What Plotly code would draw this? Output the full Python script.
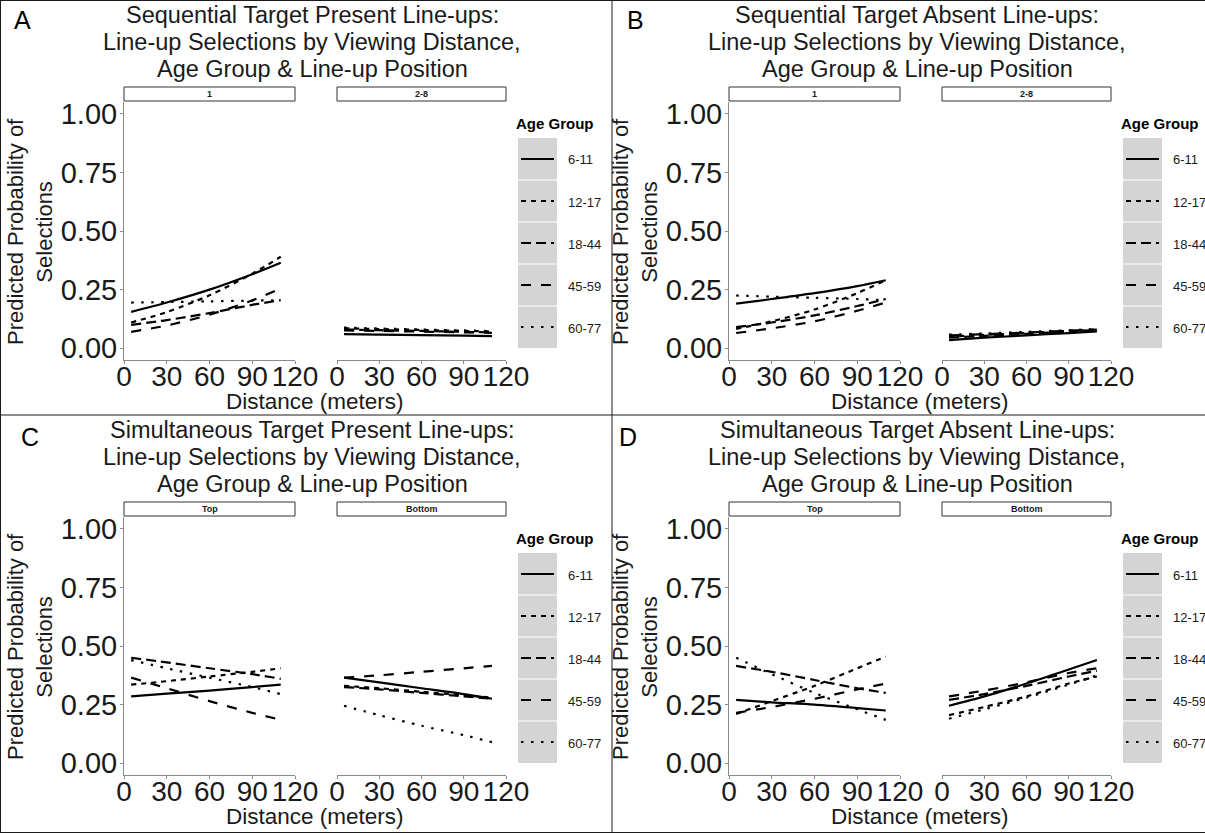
import plotly.graph_objects as go

W, H = 1205, 833
FONT = "Liberation Sans, Arial, sans-serif"

# ---------------- data ----------------
distance = [5, 30, 60, 90, 110]
age_groups = ["6-11", "12-17", "18-44", "45-59", "60-77"]
x_ticks = [0, 30, 60, 90, 120]
y_ticks = [0, 0.25, 0.5, 0.75, 1.0]
y_tick_labels = ["0.00", "0.25", "0.50", "0.75", "1.00"]

# rows follow age_groups order
seq_tp_pos1 = [
    [0.155, 0.195, 0.250, 0.316, 0.365],
    [0.110, 0.154, 0.226, 0.318, 0.390],
    [0.100, 0.120, 0.150, 0.185, 0.205],
    [0.070, 0.097, 0.143, 0.204, 0.255],
    [0.195, 0.197, 0.200, 0.203, 0.205],
]
seq_tp_pos2_8 = [
    [0.060, 0.058, 0.056, 0.054, 0.052],
    [0.085, 0.082, 0.078, 0.074, 0.072],
    [0.080, 0.077, 0.074, 0.070, 0.068],
    [0.076, 0.074, 0.071, 0.068, 0.066],
    [0.088, 0.084, 0.080, 0.076, 0.073],
]
seq_ta_pos1 = [
    [0.190, 0.210, 0.235, 0.265, 0.290],
    [0.083, 0.115, 0.165, 0.235, 0.290],
    [0.090, 0.110, 0.140, 0.180, 0.210],
    [0.065, 0.085, 0.115, 0.160, 0.195],
    [0.225, 0.220, 0.215, 0.210, 0.205],
]
seq_ta_pos2_8 = [
    [0.035, 0.045, 0.055, 0.065, 0.072],
    [0.050, 0.057, 0.065, 0.074, 0.080],
    [0.045, 0.053, 0.062, 0.072, 0.078],
    [0.055, 0.060, 0.067, 0.075, 0.080],
    [0.058, 0.063, 0.070, 0.077, 0.082],
]
sim_tp_top = [
    [0.285, 0.297, 0.310, 0.325, 0.335],
    [0.335, 0.350, 0.370, 0.390, 0.405],
    [0.450, 0.430, 0.405, 0.380, 0.360],
    [0.365, 0.320, 0.265, 0.215, 0.185],
    [0.440, 0.405, 0.365, 0.325, 0.295],
]
sim_tp_bottom = [
    [0.365, 0.345, 0.320, 0.295, 0.275],
    [0.330, 0.320, 0.305, 0.290, 0.280],
    [0.325, 0.315, 0.300, 0.285, 0.275],
    [0.365, 0.375, 0.390, 0.405, 0.415],
    [0.245, 0.205, 0.160, 0.120, 0.090],
]
sim_ta_top = [
    [0.270, 0.260, 0.250, 0.235, 0.225],
    [0.210, 0.265, 0.330, 0.405, 0.455],
    [0.415, 0.390, 0.355, 0.320, 0.300],
    [0.215, 0.240, 0.275, 0.315, 0.340],
    [0.450, 0.380, 0.300, 0.230, 0.185],
]
sim_ta_bottom = [
    [0.245, 0.285, 0.340, 0.400, 0.440],
    [0.205, 0.240, 0.285, 0.340, 0.370],
    [0.270, 0.295, 0.330, 0.370, 0.395],
    [0.285, 0.310, 0.345, 0.385, 0.405],
    [0.190, 0.230, 0.280, 0.335, 0.375],
]

panel_letters = ["A", "B", "C", "D"]
panel_titles = [
    "Sequential Target Present Line-ups:<br>Line-up Selections by Viewing Distance,<br>Age Group & Line-up Position",
    "Sequential Target Absent Line-ups:<br>Line-up Selections by Viewing Distance,<br>Age Group & Line-up Position",
    "Simultaneous Target Present Line-ups:<br>Line-up Selections by Viewing Distance,<br>Age Group & Line-up Position",
    "Simultaneous Target Absent Line-ups:<br>Line-up Selections by Viewing Distance,<br>Age Group & Line-up Position",
]
facet_labels = [["1", "2-8"], ["1", "2-8"], ["Top", "Bottom"], ["Top", "Bottom"]]
panel_data = [
    [seq_tp_pos1, seq_tp_pos2_8],
    [seq_ta_pos1, seq_ta_pos2_8],
    [sim_tp_top, sim_tp_bottom],
    [sim_ta_top, sim_ta_bottom],
]
y_title = "Predicted Probability of<br>Selections"
x_title = "Distance (meters)"
legend_title = "Age Group"

# ---------------- styles / layout geometry ----------------
age_dashes = ["solid", "5px,5px", "10px,5px", "10px,10px", "2.5px,7.5px"]
LINE_W = 2.2
offsets = [(0, 0), (605, 0), (0, 415), (605, 415)]
letter_pos = [(22, 20), (635, 20), (30, 437), (628, 437)]
facet_x = [(124, 295), (337, 506)]
plot_y = (102, 360)
title_line_y = [15, 42, 69]
AXIS_COL = "#8a8a8a"
TXT = "#1a1a1a"


def fx(p):
    return p / W


def fy(p):
    return 1 - p / H


fig = go.Figure()
shapes = []
annotations = []
axes = {}

for p, (dx, dy) in enumerate(offsets):
    for f in range(2):
        k = p * 2 + f + 1
        xname = "xaxis" if k == 1 else f"xaxis{k}"
        yname = "yaxis" if k == 1 else f"yaxis{k}"
        xref = "x" if k == 1 else f"x{k}"
        yref = "y" if k == 1 else f"y{k}"
        x0, x1 = facet_x[f]
        axes[xname] = dict(
            domain=[fx(x0 + dx), fx(x1 + dx)], anchor=yref, range=[0, 120],
            tickvals=x_ticks, ticktext=[str(v) for v in x_ticks], tickangle=0,
            tickfont=dict(family=FONT, size=28, color=TXT),
            showline=True, linecolor=AXIS_COL, linewidth=1,
            ticks="outside", ticklen=3, tickcolor=AXIS_COL,
            ticklabelstandoff=-12,
            showgrid=False, zeroline=False, automargin=False, fixedrange=True,
        )
        axes[yname] = dict(
            domain=[fy(plot_y[1] + dy), fy(plot_y[0] + dy)], anchor=xref,
            range=[-0.05, 1.05], tickvals=y_ticks, ticktext=y_tick_labels,
            tickfont=dict(family=FONT, size=29, color=TXT),
            showline=(f == 0), linecolor=AXIS_COL, linewidth=1,
            ticks="outside" if f == 0 else "", ticklen=3, tickcolor=AXIS_COL,
            ticklabelstandoff=-3,
            showticklabels=(f == 0),
            showgrid=False, zeroline=False, automargin=False, fixedrange=True,
        )
        for i, age in enumerate(age_groups):
            fig.add_trace(go.Scatter(
                x=distance, y=panel_data[p][f][i], mode="lines", name=age,
                line=dict(color="black", width=LINE_W, dash=age_dashes[i],
                          shape="spline", smoothing=0.8),
                xaxis=xref, yaxis=yref, showlegend=False, hoverinfo="skip",
            ))
        # strip
        shapes.append(dict(type="rect", xref="paper", yref="paper",
                           x0=fx(x0 + dx), x1=fx(x1 + dx),
                           y0=fy(101 + dy), y1=fy(87 + dy),
                           fillcolor="white", line=dict(color="#333333", width=1)))
        annotations.append(dict(x=fx((x0 + x1) / 2 + dx), y=fy(94 + dy),
                                xref="paper", yref="paper", showarrow=False,
                                text=f"<b>{facet_labels[p][f]}</b>",
                                font=dict(family=FONT, size=9, color=TXT),
                                xanchor="center", yanchor="middle"))

    # title (three lines, ggplot-like tight spacing)
    for j, line in enumerate(panel_titles[p].split("<br>")):
        annotations.append(dict(x=fx(312 + dx), y=fy(title_line_y[j] + dy),
                                xref="paper", yref="paper", showarrow=False,
                                text=line, font=dict(family=FONT, size=23.5, color=TXT),
                                xanchor="center", yanchor="middle"))
    # letter
    lx, ly = letter_pos[p]
    annotations.append(dict(x=fx(lx), y=fy(ly), xref="paper", yref="paper",
                            showarrow=False, text=panel_letters[p],
                            font=dict(family=FONT, size=25, color="black"),
                            xanchor="center", yanchor="middle"))
    # y title
    annotations.append(dict(x=fx(30 + dx), y=fy(232 + dy), xref="paper", yref="paper",
                            showarrow=False, text=y_title, textangle=-90, align="center",
                            font=dict(family=FONT, size=22, color=TXT),
                            xanchor="center", yanchor="middle"))
    # x title
    annotations.append(dict(x=fx(315 + dx), y=fy(401 + dy), xref="paper", yref="paper",
                            showarrow=False, text=x_title,
                            font=dict(family=FONT, size=22.5, color=TXT),
                            xanchor="center", yanchor="middle"))
    # legend
    annotations.append(dict(x=fx(514 + dx), y=fy(123 + dy), xref="paper", yref="paper",
                            showarrow=False, text=f"<b>{legend_title}</b>",
                            font=dict(family=FONT, size=15, color="black"),
                            xanchor="left", yanchor="middle"))
    shapes.append(dict(type="rect", xref="paper", yref="paper",
                       x0=fx(518 + dx), x1=fx(557 + dx), y0=fy(348 + dy), y1=fy(138 + dy),
                       fillcolor="#d4d4d4", line=dict(width=0), layer="below"))
    for i, age in enumerate(age_groups):
        cy = 159 + 42 * i + dy
        if i > 0:
            shapes.append(dict(type="line", xref="paper", yref="paper",
                               x0=fx(518 + dx), x1=fx(557 + dx),
                               y0=fy(cy - 21), y1=fy(cy - 21),
                               line=dict(color="white", width=1.2)))
        shapes.append(dict(type="line", xref="paper", yref="paper",
                           x0=fx(521 + dx), x1=fx(554 + dx), y0=fy(cy), y1=fy(cy),
                           line=dict(color="black", width=LINE_W, dash=age_dashes[i])))
        annotations.append(dict(x=fx(566 + dx), y=fy(cy + 1), xref="paper", yref="paper",
                                showarrow=False, text=age,
                                font=dict(family=FONT, size=13, color=TXT),
                                xanchor="left", yanchor="middle"))

# panel borders
border = dict(color="#1a1a1a", width=1)
for (xa, ya, xb, yb) in [(0.5, 0, 0.5, H), (0, 0.5, W, 0.5), (0, H - 0.5, W, H - 0.5),
                         (612, 0, 612, H), (0, 415, W, 415)]:
    shapes.append(dict(type="line", xref="paper", yref="paper",
                       x0=fx(xa), x1=fx(xb), y0=fy(ya), y1=fy(yb), line=border))

fig.update_layout(
    width=W, height=H, margin=dict(l=0, r=0, t=0, b=0),
    paper_bgcolor="white", plot_bgcolor="rgba(0,0,0,0)",
    showlegend=False, shapes=shapes, annotations=annotations, **axes,
)

fig.write_html("out.html", config={"displayModeBar": False},
               post_script="document.body.style.margin='0';")
